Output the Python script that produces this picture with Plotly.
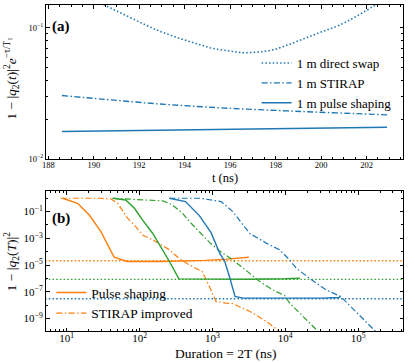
import plotly.graph_objects as go

# ---------------- Panel (a) data ----------------
t_swap = [188.6, 189.5, 190.46, 191.4, 192.3, 193.0, 193.76, 194.5, 195.2, 195.9,
          196.55, 197.2, 197.87, 198.6, 199.3, 200.0, 200.8, 201.6, 202.4, 202.9]
swap = [0.23, 0.186, 0.150, 0.125, 0.105, 0.093, 0.0835, 0.076, 0.070, 0.067,
        0.0648, 0.0655, 0.068, 0.075, 0.0835, 0.093, 0.105, 0.124, 0.150, 0.168]
t_stirap = [188.6, 190.5, 192.5, 194.5, 196.5, 198.5, 199.8, 201.5, 202.9]
stirap = [0.0305, 0.0285, 0.0266, 0.0252, 0.0241, 0.0233, 0.0228, 0.0222, 0.0217]
t_ps = [188.6, 192.0, 196.0, 200.0, 202.9]
ps = [0.0162, 0.0165, 0.0168, 0.0172, 0.0175]

# ---------------- Panel (b) data ----------------
or_ps_x = [8.8, 14.1, 20.4, 29.5, 44.7, 67.6, 200, 398, 794, 1585, 3162]
or_ps_y = [1.0, 0.42, 0.056, 3.2e-3, 3.9e-5, 1.86e-5, 1.86e-5, 1.95e-5, 2.24e-5, 2.8e-5, 3.9e-5]
or_st_x = [8.3, 28.2, 40.7, 50.1, 68.4, 85.1, 109.6, 166, 257, 347, 479, 724, 891, 1122,
           1514, 1905, 3236, 5495, 8318, 10000]
or_st_y = [1, 1, 0.87, 0.42, 0.032, 0.01, 1.8e-3, 5.8e-4, 1.4e-4, 3.2e-5, 1.05e-5, 3.3e-6,
           3.2e-7, 1.9e-8, 1.45e-8, 1.3e-8, 3.5e-9, 6.2e-10, 1.1e-10, 5e-11]
gr_ps_x = [42.7, 64.6, 85.1, 109.6, 151, 195, 257, 347, 1000, 3162, 10000, 15849]
gr_ps_y = [1, 0.74, 0.178, 0.024, 2.4e-3, 2.45e-4, 1.86e-5, 9.3e-7, 8.5e-7, 8.7e-7, 9.5e-7, 1.05e-6]
gr_st_x = [42.7, 209, 282, 389, 537, 724, 912, 1259, 1905, 2951, 4467, 6761, 9772, 11482,
           15849, 21380, 28184, 31623]
gr_st_y = [1, 0.63, 0.32, 0.074, 0.01, 1.8e-3, 5e-4, 1.15e-4, 2.45e-5, 3.7e-6, 5.9e-7, 1.4e-7,
           5.4e-8, 1.45e-8, 2.6e-9, 4.7e-10, 1.1e-10, 5e-11]
bl_ps_x = [257, 427, 661, 955, 1259, 1479, 1738, 2042, 2630, 10000, 31623, 54954, 57544]
bl_ps_y = [1, 0.56, 0.05, 2.8e-3, 7.8e-5, 1.86e-5, 1.05e-6, 4.5e-8, 3.4e-8, 3.3e-8, 3.4e-8, 3.8e-8, 5e-8]
bl_st_x = [257, 676, 1318, 1905, 3236, 5495, 8318, 11482, 14125, 21380, 36308, 57544, 83176,
           128825, 173780, 199526]
bl_st_y = [1, 1, 0.56, 0.1, 2.4e-3, 4.4e-4, 1.4e-4, 2.45e-5, 5.9e-6, 1.05e-6, 1.4e-7, 4.5e-8,
           6e-9, 6.2e-10, 1.1e-10, 5e-11]
floor_x = [4.0, 5.0e5]
floor_orange = 2.1e-5
floor_green = 8.5e-7
floor_blue = 3.0e-8

BLUE = "#1f77b4"
ORANGE = "#ff7f0e"
GREEN = "#2ca02c"
FONT = "Liberation Serif, Times New Roman, serif"
DOT = "1.5px,2.2px"
DASHDOT = "6px,2.4px,1.5px,2.4px"

fig = go.Figure()

# panel a
fig.add_trace(go.Scatter(x=t_swap, y=swap, mode="lines", name="1 m direct swap",
                         line=dict(color=BLUE, width=1.6, dash=DOT, shape="spline"),
                         xaxis="x", yaxis="y", legend="legend"))
fig.add_trace(go.Scatter(x=t_stirap, y=stirap, mode="lines", name="1 m STIRAP",
                         line=dict(color=BLUE, width=1.4, dash=DASHDOT, shape="spline"),
                         xaxis="x", yaxis="y", legend="legend"))
fig.add_trace(go.Scatter(x=t_ps, y=ps, mode="lines", name="1 m pulse shaping",
                         line=dict(color=BLUE, width=1.5),
                         xaxis="x", yaxis="y", legend="legend"))

# panel b
def fl(val):
    return [val, val]

fig.add_trace(go.Scatter(x=floor_x, y=fl(floor_orange), mode="lines", showlegend=False,
                         line=dict(color=ORANGE, width=1.4, dash=DOT), xaxis="x2", yaxis="y2"))
fig.add_trace(go.Scatter(x=floor_x, y=fl(floor_green), mode="lines", showlegend=False,
                         line=dict(color=GREEN, width=1.4, dash=DOT), xaxis="x2", yaxis="y2"))
fig.add_trace(go.Scatter(x=floor_x, y=fl(floor_blue), mode="lines", showlegend=False,
                         line=dict(color=BLUE, width=1.4, dash=DOT), xaxis="x2", yaxis="y2"))

fig.add_trace(go.Scatter(x=or_ps_x, y=or_ps_y, mode="lines", name="Pulse shaping",
                         line=dict(color=ORANGE, width=1.4), xaxis="x2", yaxis="y2", legend="legend2"))
fig.add_trace(go.Scatter(x=or_st_x, y=or_st_y, mode="lines", name="STIRAP improved",
                         line=dict(color=ORANGE, width=1.2, dash=DASHDOT), xaxis="x2", yaxis="y2",
                         legend="legend2"))
fig.add_trace(go.Scatter(x=gr_ps_x, y=gr_ps_y, mode="lines", showlegend=False,
                         line=dict(color=GREEN, width=1.4), xaxis="x2", yaxis="y2"))
fig.add_trace(go.Scatter(x=gr_st_x, y=gr_st_y, mode="lines", showlegend=False,
                         line=dict(color=GREEN, width=1.2, dash=DASHDOT), xaxis="x2", yaxis="y2"))
fig.add_trace(go.Scatter(x=bl_ps_x, y=bl_ps_y, mode="lines", showlegend=False,
                         line=dict(color=BLUE, width=1.4), xaxis="x2", yaxis="y2"))
fig.add_trace(go.Scatter(x=bl_st_x, y=bl_st_y, mode="lines", showlegend=False,
                         line=dict(color=BLUE, width=1.2, dash=DASHDOT), xaxis="x2", yaxis="y2"))

def sup(e):
    return "10<sup>" + ("−" + str(-e) if e < 0 else str(e)) + "</sup>"

axis_common = dict(showline=True, linecolor="black", linewidth=1, mirror="allticks",
                   ticks="inside", ticklen=3.5, tickcolor="black", showgrid=False,
                   zeroline=False, automargin=False)

def label(text, x, y, size, angle=0, bold=False):
    return dict(text=("<b>%s</b>" % text) if bold else text, x=x, y=y, xref="paper", yref="paper",
                xanchor="center" if not bold else "left", yanchor="middle", showarrow=False,
                textangle=angle, font=dict(size=size, family=FONT, color="black"))

fig.update_layout(
    width=415, height=363,
    margin=dict(l=46, r=12, t=5, b=32, autoexpand=False),
    paper_bgcolor="white", plot_bgcolor="white",
    font=dict(family=FONT, color="black", size=12),
    xaxis=dict(**axis_common, domain=[0, 1], anchor="y", range=[187.9, 203.6],
               tickvals=[188, 190, 192, 194, 196, 198, 200, 202],
               tickfont=dict(size=8.5, family=FONT), ticklabelstandoff=-2,
               minor=dict(ticks="inside", ticklen=2, dtick=0.5, tick0=188, tickcolor="black")),
    yaxis=dict(**axis_common, domain=[0.5276, 1], anchor="x", type="log", range=[-2, -0.825],
               tickvals=[0.01, 0.1], ticktext=[sup(-2), sup(-1)], tickfont=dict(size=8.5, family=FONT),
               minor=dict(ticks="inside", ticklen=2, tickcolor="black",
                          tickvals=[0.02, 0.03, 0.04, 0.05, 0.06, 0.07, 0.08, 0.09])),
    xaxis2=dict(**axis_common, domain=[0, 1], anchor="y2", type="log", range=[0.716, 5.616],
                tickvals=[10, 100, 1000, 1e4, 1e5], ticktext=[sup(1), sup(2), sup(3), sup(4), sup(5)],
                tickfont=dict(size=11, family=FONT), ticklabelstandoff=-3,
                minor=dict(ticks="inside", ticklen=2, tickcolor="black",
                           tickvals=[m * 10 ** d for d in range(0, 6) for m in range(2, 10)])),
    yaxis2=dict(**axis_common, domain=[0, 0.4294], anchor="x2", type="log", range=[-9.93, 0.54],
                tickvals=[1e-9, 1e-7, 1e-5, 1e-3, 1e-1],
                ticktext=[sup(-9), sup(-7), sup(-5), sup(-3), sup(-1)],
                tickfont=dict(size=11, family=FONT),
                minor=dict(ticks="inside", ticklen=2, tickcolor="black",
                           tickvals=[1e-8, 1e-6, 1e-4, 1e-2, 1])),
    legend=dict(x=0.59, y=0.868, xanchor="left", yanchor="top", bgcolor="rgba(0,0,0,0)",
                font=dict(size=13, family=FONT), itemwidth=30, tracegroupgap=0),
    legend2=dict(x=0.015, y=0.165, xanchor="left", yanchor="top", bgcolor="rgba(0,0,0,0)",
                 font=dict(size=13.5, family=FONT), itemwidth=30, tracegroupgap=0),
    annotations=[
        label("(a)", 0.01, 0.935, 15, bold=True),
        label("(b)", 0.01, 0.345, 15, bold=True),
        label("t (ns)", 0.501, 0.468, 12.5),
        label("Duration = 2T (ns)", 0.503, -0.07, 13.5),
        label("1 − |<i>q</i><sub>2</sub>(<i>t</i>)|<sup>2</sup><i>e</i><sup>−τ/T₁</sup>",
              -0.097, 0.775, 13.5, angle=-90),
        label("1 − |<i>q</i><sub>2</sub>(<i>T</i>)|<sup>2</sup>", -0.097, 0.2147, 13.5, angle=-90),
    ],
)

fig.write_html("out.html", config={"displayModeBar": False},
               post_script="document.body.style.margin='0';document.body.style.padding='0';")
